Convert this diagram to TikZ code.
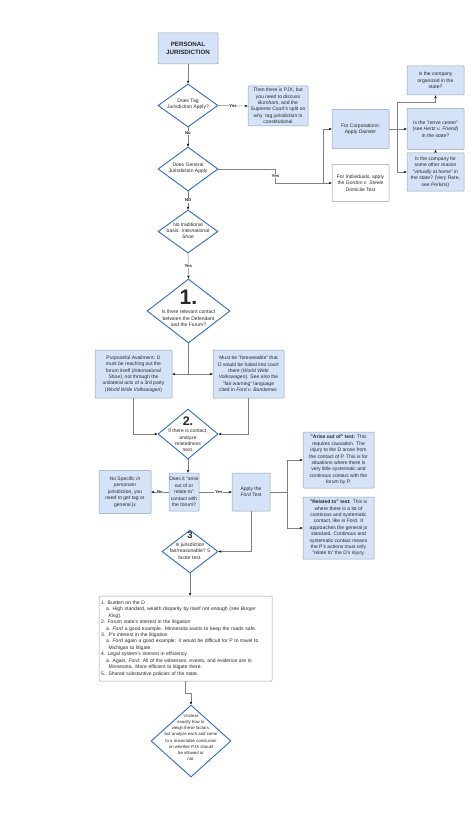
\documentclass[tikz,border=0pt]{standalone}
\usepackage{fontspec}
\setmainfont{Liberation Sans}
\usetikzlibrary{shapes.geometric,arrows.meta}
\definecolor{boxfill}{RGB}{212,227,248}
\definecolor{boxline}{RGB}{150,160,175}
\definecolor{gateline}{RGB}{48,108,196}
\definecolor{wirecol}{RGB}{128,128,128}
\definecolor{inkcol}{RGB}{40,40,40}

\begin{document}
\begin{tikzpicture}[
  every node/.style={font=\fontsize{5}{6.4}\selectfont, text=inkcol, align=center},
  bluebox/.style={draw=boxline, fill=boxfill, line width=0.5pt, inner sep=0pt, rounded corners=0.8pt},
  whitebox/.style={draw=boxline, fill=white, line width=0.5pt, inner sep=0pt, rounded corners=0.8pt},
  gate/.style={diamond, draw=gateline, fill=white, line width=0.9pt, inner sep=0pt},
  wire/.style={draw=wirecol, line width=0.5pt},
  arr/.style={wire, -{Stealth[length=3pt,width=2.4pt,color=black]}},
  ynlabel/.style={fill=white, inner sep=0.6pt, font=\fontsize{4.3}{4.3}\selectfont\bfseries},
  bignum/.style={font=\fontsize{#1}{#1}\selectfont\bfseries}
]
\begin{scope}[x=1pt,y=-1pt]
\useasboundingbox[fill=white] (0,0) rectangle (474,829);

\node[bluebox, minimum width=60, minimum height=31, font=\fontsize{6.2}{8}\selectfont\bfseries] (pj) at (188,48.5) {PERSONAL\\JURISDICTION};

\node[gate, minimum width=60, minimum height=43] (tagq) at (188,105.5) {};
\node (tagtxt) at (188,104) {Does Tag\\Jurisdiction Apply?};
\node[bluebox, minimum width=60, minimum height=40] (pjx) at (278,106)
  {Then there is PJX, but\\you need to discuss\\\emph{Burnham}, and the\\Supreme Court's split on\\why\ \ tag jurisdiction is\\constitutional};

\node[gate, minimum width=60, minimum height=44] (genq) at (188,169) {};
\node (gentxt) at (188,168.3) {Does General\\Jurisdiction Apply};

\node[bluebox, minimum width=57, minimum height=39] (corp) at (360.5,129) {For Corporations:\\Apply \emph{Daimler}};
\node[whitebox, minimum width=57, minimum height=37] (ind) at (360.5,183)
  {For Individuals, apply\\the \emph{Gordon v. Steele}\\Domicile Test};

\node[bluebox, minimum width=57, minimum height=29] (org) at (435.5,80.5) {Is the company\\organized in the\\state?};
\node[bluebox, minimum width=57, minimum height=41] (nerve) at (435.5,129)
  {Is the "nerve center"\\(see \emph{Hertz v. Friend})\\in the state?};
\node[bluebox, minimum width=57, minimum height=38] (home) at (435.5,172)
  {Is the company for\\some other reason\\"virtually at home" in\\the state? (Very Rare,\\see \emph{Perkins})};

\node[gate, minimum width=60, minimum height=43] (shoeq) at (188,231.5) {};
\node (shoetxt) at (188,230.8) {No traditional\\basis: \emph{International}\\\emph{Shoe}};

\node[gate, minimum width=83, minimum height=64] (oneq) at (188.5,311) {};
\node[bignum=21] (onenum) at (188.5,297) {1.};
\node (onetxt) at (188.5,318.6) {Is there relevant contact\\between the Defendant\\and the Forum?};

\node[bluebox, minimum width=77, minimum height=48] (avail) at (133.5,374)
  {Purposeful Availment: D\\must be reaching out the\\forum itself (\emph{International}\\\emph{Shoe}), not through the\\unilateral acts of a 3rd party\\(\emph{World Wide Volkswagen})};
\node[bluebox, minimum width=71, minimum height=48] (fore) at (248.5,374)
  {Must be "foreseeable" that\\D would be haled into court\\there (\emph{World Wide}\\\emph{Volkswagen}). See also the\\"fair warning" language\\cited in \emph{Ford v. Bandemer}.};

\node[gate, minimum width=60, minimum height=50] (twoq) at (188,434) {};
\node[bignum=12.5] (twonum) at (188,420.7) {2.};
\node (twotxt) at (188,440.5) {If there is contact,\\analyze\\relatedness\\next.};

\node[bluebox, minimum width=30, minimum height=38] (arise) at (184,492)
  {Does it "arise\\out of or\\relate to"\\contact with\\the forum?};
\node[bluebox, minimum width=52, minimum height=43] (nospec) at (125,492)
  {No Specific \emph{in}\\\emph{personam}\\jurisdiction, you\\need to get tag or\\general jx};
\node[bluebox, minimum width=38, minimum height=38] (ford) at (251,492) {Apply the\\\emph{Ford} Test};

\node[bluebox, minimum width=71, minimum height=56] (ariseout) at (338.5,460)
  {\textbf{"Arise out of" test:} This\\requires causation. The\\injury to the D arose from\\the contact of P. This is for\\situations where there is\\very little systematic and\\continous contact with the\\forum by P.};
\node[bluebox, minimum width=71, minimum height=62] (related) at (338.5,528)
  {\textbf{"Related to" test:} This is\\where there is a lot of\\continous and systematic\\contact, like in Ford. It\\approaches the general jx\\standard. Continous and\\systematic contact means\\the P's actions must only\\"relate to" the D's injury.};

\node[gate, minimum width=56, minimum height=43] (threeq) at (190,551.5) {};
\node[bignum=9.5] (threenum) at (190,535.5) {3};
\node (threetxt) at (190,551.2) {Is jurisdiction\\fair/reasonable? 5\\factor test.};

\node[whitebox, minimum width=173, minimum height=85, text width=169, inner xsep=2pt, align=left] (factors) at (185.5,638.5)
  {1. Burden on the D\\
   \hspace*{1em}a. High standard, wealth disparity by itself not enough (see \emph{Burger}\\
   \hspace*{1.5em}\emph{King}).\\
   2. Forum state's interest in the litigation\\
   \hspace*{1em}a. \emph{Ford} a good example. Minnesota wants to keep the roads safe.\\
   3.\ \ P's interest in the litigation\\
   \hspace*{1em}a. \emph{Ford} again a good example: it would be difficult for P to travel to\\
   \hspace*{1.5em}Michigan to litigate.\\
   4. Legal system's interest in efficiency.\\
   \hspace*{1em}a. Again, \emph{Ford}: All of the witnesses, events, and evidence are in\\
   \hspace*{1.5em}Minnesota. More efficient to litigate there.\\
   5.\ \ Shared substantive policies of the state.\\[2pt]};

\node[gate, minimum width=80, minimum height=72] (finalq) at (191,741) {};
\node[font=\fontsize{4.3}{6.1}\selectfont] (finaltxt) at (191,737.5)
  {Unclear\\exactly how to\\weigh these factors,\\but analyze each and come\\to a reasonable conclusion\\on whether PJX should\\be allowed or\\not.};

\coordinate (gensplit) at (323,183);
\coordinate (corpsplit) at (397,129);
\coordinate (orgjoin) at (397,102);
\coordinate (onesplit) at (188.5,374);
\coordinate (fordsplit) at (287,492);

\draw[arr] (pj.south) -- (tagq.north);
\draw[arr] (tagq.east) -- node[ynlabel]{Yes} (pjx.west);
\draw[arr] (tagq.south) -- node[ynlabel,pos=0.3]{No} (genq.north);
\draw[wire] (genq.east) -- ++(57,0) |- node[ynlabel,pos=0.25]{Yes} (gensplit);
\draw[arr] (gensplit) -- (ind.west);
\draw[arr] (gensplit) |- (corp.west);
\draw[wire] (corp.east) -- (corpsplit);
\draw[arr] (corpsplit) -- (nerve.west);
\draw[arr] (corpsplit) -- (orgjoin) -| (org.south);
\draw[arr] (corpsplit) |- (home.west);
\draw[arr] (home.north) -- (nerve.south);

\draw[arr] (genq.south) -- node[ynlabel]{NO} (shoeq.north);
\draw[arr] (shoeq.south) -- node[ynlabel]{Yes} (oneq.north);
\draw[wire] (oneq.south) -- (onesplit);
\draw[arr] (onesplit) -- (avail.east);
\draw[arr] (onesplit) -- (fore.west);
\draw[arr] (avail.south) |- (twoq.west);
\draw[arr] (fore.south) |- (twoq.east);

\draw[arr] (twoq.south) -- (twoq.south |- arise.north);
\draw[arr] (arise.west) -- node[ynlabel]{No} (nospec.east);
\draw[arr] (arise.east) -- node[ynlabel,pos=0.6]{Yes} (ford.west);
\draw[wire] (ford.east) -- (fordsplit);
\draw[arr] (fordsplit) |- (ariseout.west);
\draw[arr] (fordsplit) |- (related.west);
\draw[arr] (ford.south) |- (threeq.east);
\draw[arr] (threeq.south) -- (threeq.south |- factors.north);
\draw[arr] (factors.south) -- ++(0,12) -| (finalq.north);

\end{scope}
\end{tikzpicture}
\end{document}
